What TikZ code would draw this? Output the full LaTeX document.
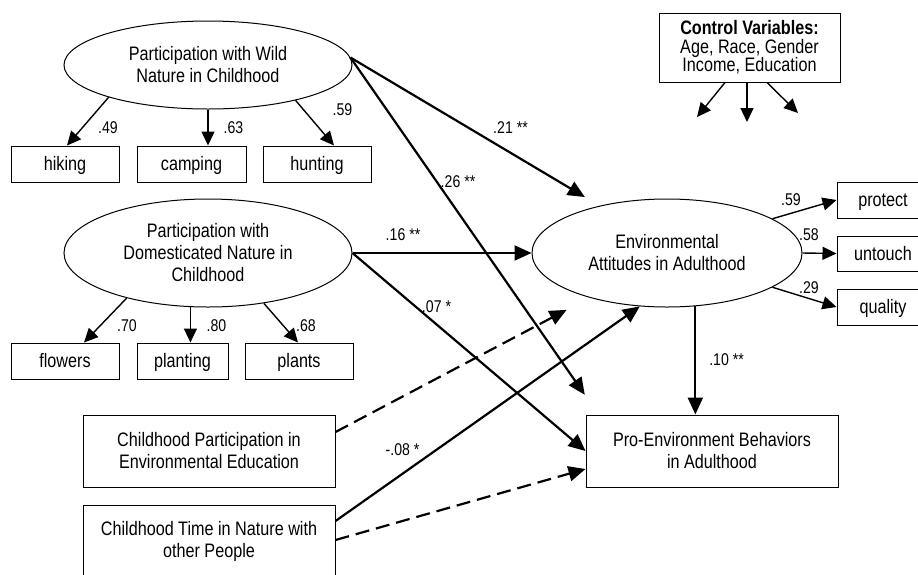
\documentclass[tikz,border=0pt]{standalone}
\usepackage{fontspec}
\setmainfont[FakeStretch=0.83]{Liberation Sans}
\usetikzlibrary{arrows.meta,shapes.geometric}

\newcommand\dgtext{\fontsize{19.5}{22}\selectfont}
\newcommand\dglabel{\fontsize{17}{18}\selectfont}

\begin{document}
\begin{tikzpicture}[x=1pt,y=-1pt,
  lat/.style={ellipse, draw, line width=1pt, inner sep=0pt, align=center, font=\dgtext},
  obs/.style={rectangle, draw, line width=1pt, inner sep=0pt, minimum height=36pt,
              text height=13.5pt, text depth=0pt, font=\dgtext},
  bigbox/.style={rectangle, draw, line width=1pt, inner sep=0pt, minimum width=252pt,
                 minimum height=72pt, align=center, font=\dgtext},
  lbl/.style={inner sep=0pt, font=\dglabel},
  patharrow/.style={line width=2.2pt, -{Triangle[length=17pt,width=15pt]}},
  loadarrow/.style={line width=1.4pt, -{Triangle[length=14pt,width=13pt]}},
  dasharrow/.style={patharrow, dash pattern=on 14pt off 7pt}]
\useasboundingbox (0,0) rectangle (918,574);
\clip (0,0) rectangle (918,574);
\fill[white] (0,0) rectangle (918,574);

% latent variables
\node[lat, minimum width=288pt, minimum height=88pt] (wild) at (208,65)
  {Participation with Wild\\Nature in Childhood};
\node[lat, minimum width=288pt, minimum height=108pt] (dom) at (208,253)
  {Participation with\\Domesticated Nature in\\Childhood};
\node[lat, minimum width=270pt, minimum height=108pt] (env) at (667,253)
  {Environmental\\Attitudes in Adulthood};

% indicators
\node[obs, minimum width=108pt] (hiking)   at (65,164)    {hiking};
\node[obs, minimum width=109pt] (camping)  at (191.5,164) {camping};
\node[obs, minimum width=108pt] (hunting)  at (317,164)   {hunting};
\node[obs, minimum width=108pt] (flowers)  at (65,361)    {flowers};
\node[obs, minimum width=91pt]  (planting) at (182.5,361) {planting};
\node[obs, minimum width=108pt] (plants)   at (299,361)   {plants};
\node[obs, minimum width=92pt]  (protect)  at (883,200)   {protect};
\node[obs, minimum width=92pt, minimum height=35pt] (untouch) at (883,253.5) {untouch};
\node[obs, minimum width=92pt]  (quality)  at (883,307)   {quality};

% observed predictors and outcome
\node[bigbox] (part) at (209,451) {Childhood Participation in\\Environmental Education};
\node[bigbox] (time) at (209,541) {Childhood Time in Nature with\\other People};
\node[bigbox] (pro)  at (712,451) {Pro-Environment Behaviors\\in Adulthood};

% control variables
\node[rectangle, draw, line width=1pt, inner sep=0pt, minimum width=181pt,
      minimum height=69pt, align=center, font=\fontsize{19.5}{18.5}\selectfont]
  (ctrl) at (749.5,47.5) {\textbf{Control Variables:}\\Age, Race, Gender\\Income, Education};
\coordinate (c1) at (697,117);
\coordinate (c2) at (747,122);
\coordinate (c3) at (798,113);

% coefficients
\node[lbl] (l49) at (108,128)   {.49};
\node[lbl] (l63) at (233.5,128) {.63};
\node[lbl] (l59) at (342.5,110) {.59};
\node[lbl] (l70) at (127,326)   {.70};
\node[lbl] (l80) at (216.5,326) {.80};
\node[lbl] (l68) at (306,326)   {.68};
\node[lbl] (l21) at (510.5,128) {.21 **};
\node[lbl] (l26) at (458,182)   {.26 **};
\node[lbl] (l16) at (403,235)   {.16 **};
\node[lbl] (l07) at (436.5,307) {.07 *};
\node[lbl] (l08) at (402.5,450) {-.08 *};
\node[lbl] (l10) at (726.5,360) {.10 **};
\node[lbl] (lp)  at (791,200)   {.59};
\node[lbl] (lu)  at (809,235)   {.58};
\node[lbl] (lq)  at (809,288)   {.29};

% measurement paths
\draw[loadarrow] (wild.198.5) -- ([xshift=2pt]hiking.north);
\draw[loadarrow] (wild.south) -- (wild.south |- camping.north);
\draw[loadarrow] (wild.-22.7) -- ([xshift=17pt]hunting.north);
\draw[loadarrow] (dom.209.3) -- ([xshift=19pt]flowers.north);
\draw[loadarrow] (dom.252.4) -- (dom.252.4 |- planting.north);
\draw[loadarrow] (dom.-42.2) -- ([xshift=-1pt]plants.north);
\draw[loadarrow] (env.18.7) -- (protect.west);
\draw[loadarrow] (env.east) -- (untouch.west);
\draw[loadarrow] (env.-18.7) -- (quality.west);

% control arrows
\draw[loadarrow] ([xshift=-24.5pt]ctrl.south) -- (c1);
\draw[loadarrow] ([xshift=-2.5pt]ctrl.south) -- (c2);
\draw[loadarrow] ([xshift=17.5pt]ctrl.south) -- (c3);

% structural paths
\draw[patharrow, shorten >=17pt] (wild.3) -- (env.145);
\draw[patharrow, shorten >=24pt] (wild.3) -- ([xshift=13pt]pro.north west);
\draw[patharrow] (dom.east) -- (env.west);
\draw[patharrow] (dom.east) -- (pro.west);
\draw[dasharrow, shorten >=26pt] ([yshift=19pt]part.east) -- (env.210);
\draw[patharrow] ([yshift=20pt]time.east) -- (env.243);
\draw[dasharrow] ([yshift=1pt]time.east) -- ([yshift=-18pt]pro.west);
\draw[patharrow] (env.-62) -- (env.-62 |- pro.north);
\end{tikzpicture}
\end{document}
